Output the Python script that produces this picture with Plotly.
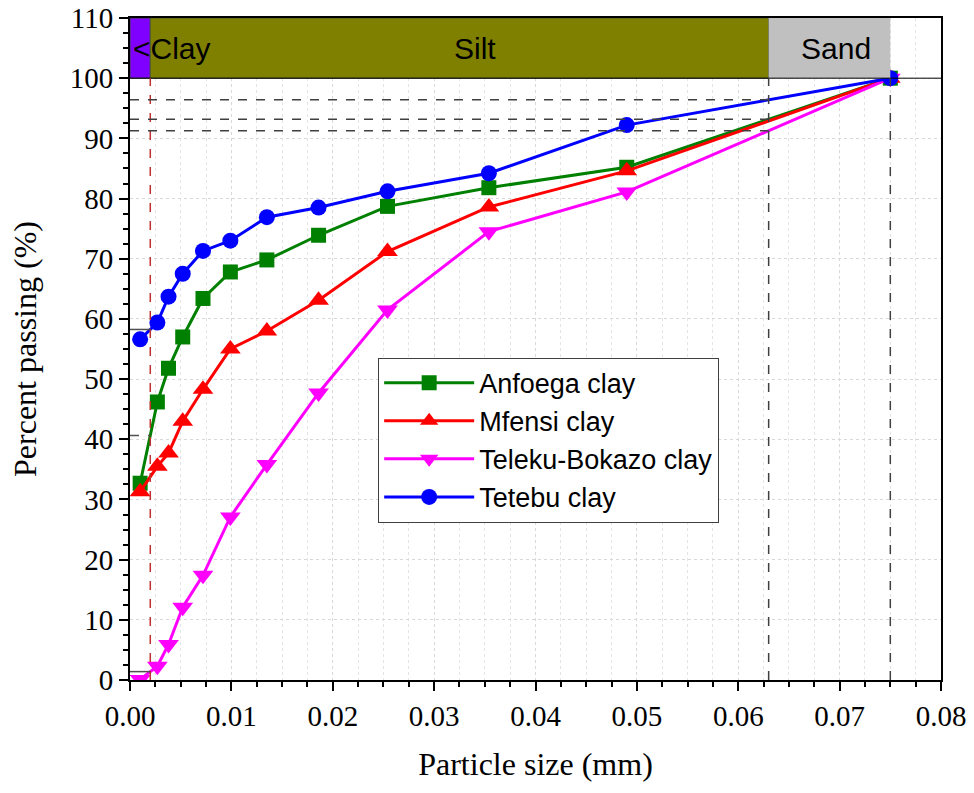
import numpy as np
import plotly.graph_objects as go

# Particle sizes (mm)
size_mm = [0.001, 0.0027, 0.0038, 0.0052, 0.0072, 0.0099, 0.0135, 0.0186, 0.0254, 0.0354, 0.049, 0.075]

anfoega = [32.7, 46.2, 51.8, 57.0, 63.4, 67.8, 69.8, 73.9, 78.7, 81.8, 85.2, 100]
mfensi = [31.3, 35.5, 37.7, 43.0, 48.3, 55.0, 58.0, 63.1, 71.2, 78.6, 84.6, 100]
teleku = [0.1, 2.3, 5.9, 12.1, 17.4, 27.1, 35.8, 47.7, 61.5, 74.5, 81.1, 100]
tetebu = [56.6, 59.4, 63.7, 67.5, 71.3, 73.0, 76.9, 78.5, 81.2, 84.2, 92.2, 100]

series_names = ["Anfoega clay", "Mfensi clay", "Teleku-Bokazo clay", "Tetebu clay"]
series_values = [anfoega, mfensi, teleku, tetebu]
series_colors = ["#008000", "#FF0000", "#FF00FF", "#0000FF"]
series_symbols = ["square", "triangle-up", "triangle-down", "circle"]
series_sizes = [15, 18, 18, 16]

# Soil classification boundaries (mm)
clay_limit = 0.002
silt_limit = 0.063
sand_limit = 0.075
band_labels = ["<Clay", "Silt", "Sand"]

x_ticks = [0, 0.01, 0.02, 0.03, 0.04, 0.05, 0.06, 0.07, 0.08]
y_ticks = list(range(0, 111, 10))

fig = go.Figure()

shapes = []
# classification bands
shapes.append(dict(type="rect", xref="x", yref="y", x0=0, x1=clay_limit, y0=100, y1=110,
                   fillcolor="#8000FF", line=dict(color="#404040", width=1), layer="above"))
shapes.append(dict(type="rect", xref="x", yref="y", x0=clay_limit, x1=silt_limit, y0=100, y1=110,
                   fillcolor="#808000", line=dict(color="#4a5a30", width=1), layer="above"))
shapes.append(dict(type="rect", xref="x", yref="y", x0=silt_limit, x1=sand_limit, y0=100, y1=110,
                   fillcolor="#C0C0C0", line=dict(color="#C0C0C0", width=0), layer="above"))
# line at 100 across
shapes.append(dict(type="line", xref="x", yref="y", x0=0, x1=0.08, y0=100, y1=100,
                   line=dict(color="black", width=1), layer="above"))
# vertical boundary lines
shapes.append(dict(type="line", xref="x", yref="y", x0=clay_limit, x1=clay_limit, y0=0, y1=100,
                   line=dict(color="#C03030", width=1.5, dash="dash")))
for xv in [silt_limit, sand_limit]:
    shapes.append(dict(type="line", xref="x", yref="y", x0=xv, x1=xv, y0=0, y1=100,
                       line=dict(color="#404040", width=1.5, dash="dash")))

# horizontal reference lines where curves cross boundaries
xs = np.array(size_mm)
for vals in [tetebu, anfoega, teleku]:
    yv = float(np.interp(silt_limit, xs, vals))
    shapes.append(dict(type="line", xref="x", yref="y", x0=0, x1=silt_limit, y0=yv, y1=yv,
                       line=dict(color="#404040", width=1.5, dash="dash")))
for vals, dsh in [(tetebu, "solid"), (anfoega, "dash"), (teleku, "solid")]:
    yv = float(np.interp(clay_limit, xs, vals))
    shapes.append(dict(type="line", xref="x", yref="y", x0=0, x1=clay_limit, y0=yv, y1=yv,
                       line=dict(color="#505050", width=1.5, dash=dsh)))

for name, vals, col, sym, sz in zip(series_names, series_values, series_colors, series_symbols, series_sizes):
    fig.add_trace(go.Scatter(
        x=size_mm, y=vals, name=name, mode="lines+markers",
        line=dict(color=col, width=3),
        marker=dict(symbol=sym, size=sz, color=col, line=dict(width=0)),
    ))

band_font = dict(family="Liberation Sans", size=30, color="black")
annotations = [
    dict(x=0.0001, y=105, xref="x", yref="y", text=band_labels[0], showarrow=False,
         xanchor="left", font=band_font),
    dict(x=0.034, y=105, xref="x", yref="y", text=band_labels[1], showarrow=False, font=band_font),
    dict(x=0.0696, y=105, xref="x", yref="y", text=band_labels[2], showarrow=False, font=band_font),
]

axis_common = dict(
    showline=True, linecolor="black", linewidth=2, mirror=True,
    ticks="outside", ticklen=9, tickwidth=2, tickcolor="black",
    showgrid=True, gridcolor="#D8D8D8", griddash="dot", gridwidth=1,
    zeroline=False, automargin=False,
    tickfont=dict(family="Liberation Serif", size=29, color="black"),
)

fig.update_layout(
    width=974, height=793,
    margin=dict(l=130, r=33, t=18, b=113),
    paper_bgcolor="white", plot_bgcolor="white",
    shapes=shapes, annotations=annotations,
    showlegend=True,
    legend=dict(x=0.306, y=0.487, xanchor="left", yanchor="top",
                bgcolor="white", bordercolor="#404040", borderwidth=1,
                font=dict(family="Liberation Sans", size=27, color="black"),
                itemwidth=90, tracegroupgap=0),
    xaxis=dict(range=[0, 0.08], tickvals=x_ticks, tickformat=".2f",
               title=dict(text="Particle size (mm)", standoff=22,
                          font=dict(family="Liberation Serif", size=32, color="black")),
               minor=dict(dtick=0.0025, ticks="outside", ticklen=5, tickwidth=2, tickcolor="black",
                          showgrid=True, gridcolor="#E4E4E4", griddash="dot"),
               **axis_common),
    yaxis=dict(range=[0, 110], tickvals=y_ticks,
               title=dict(text="Percent passing (%)", standoff=24,
                          font=dict(family="Liberation Serif", size=32, color="black")),
               minor=dict(dtick=2.5, ticks="outside", ticklen=5, tickwidth=2, tickcolor="black",
                          showgrid=False),
               **axis_common),
)

fig.write_html("out.html")
